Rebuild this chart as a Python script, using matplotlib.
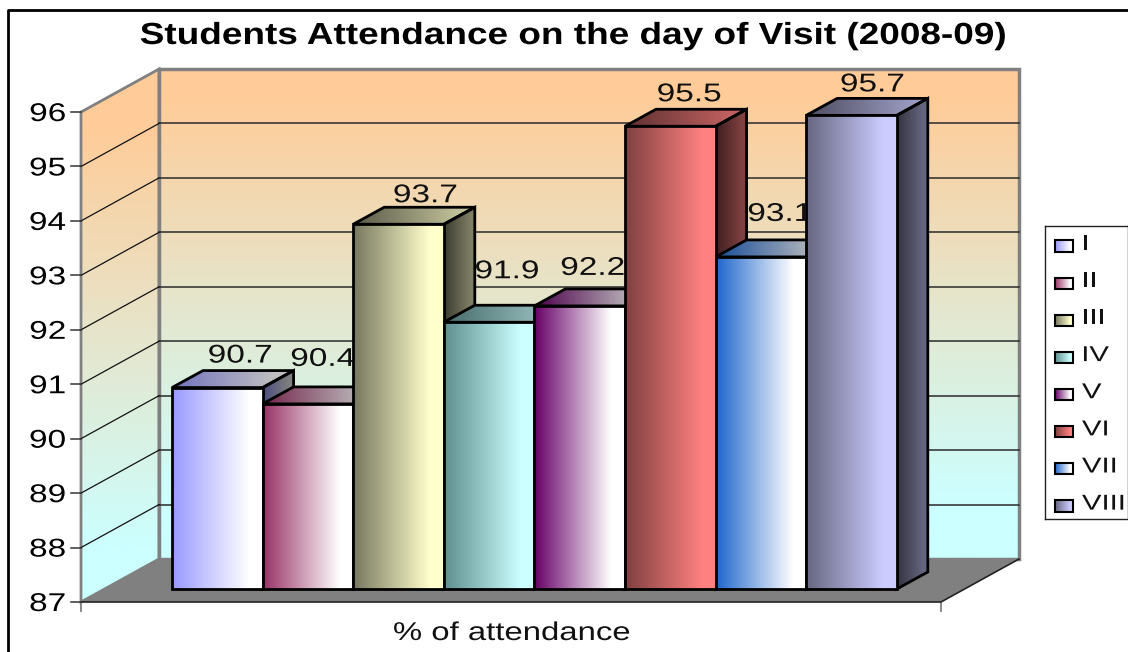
import numpy as np
import matplotlib
matplotlib.use('Agg')
import matplotlib.pyplot as plt
from matplotlib.colors import to_rgb
from matplotlib.lines import Line2D
from matplotlib.patches import Polygon
from matplotlib.patheffects import AbstractPathEffect
from matplotlib.transforms import Affine2D

plt.rcParams['font.family'] = ['Liberation Sans', 'DejaVu Sans']

classes = ['I', 'II', 'III', 'IV', 'V', 'VI', 'VII', 'VIII']
attendance = [90.7, 90.4, 93.7, 91.9, 92.2, 95.5, 93.1, 95.7]
y_ticks = [87, 88, 89, 90, 91, 92, 93, 94, 95, 96]

dark_colors = ['#9999FF', '#993366', '#777760', '#5F8F8F', '#660066', '#7F4040', '#1F66CC', '#666680']
light_colors = ['#FFFFFF', '#FFFFFF', '#FFFFCC', '#CCFFFF', '#FFFFFF', '#FF8080', '#FFFFFF', '#CCCCFF']

# pixels per bar width and per percent on the bar plane
PX_X = 90.6
PX_Y = 54.44
LEFT_PX = 172
BASE_PX = 589
W, H = 1128, 652

# 3d offsets in data units
BAR_DX, BAR_DY = 31 / PX_X, 17 / PX_Y
FRONT_X, FRONT_DY = (81 - LEFT_PX) / PX_X, -13 / PX_Y
BACK_X, BACK_DY = (159 - LEFT_PX) / PX_X, 30 / PX_Y
FLOOR_LEN = 860 / PX_X


class Stretch(AbstractPathEffect):
    # the source image is stretched sideways, so the glyphs are too
    def __init__(self, sx, anchor='center'):
        super().__init__()
        self.sx = sx
        self.anchor = anchor

    def draw_path(self, renderer, gc, tpath, affine, rgbFace=None):
        ext = tpath.get_extents()
        pivot = {'center': (ext.x0 + ext.x1) / 2, 'right': ext.x1, 'left': ext.x0}[self.anchor]
        stretch = Affine2D().translate(-pivot, 0).scale(self.sx, 1).translate(pivot, 0)
        renderer.draw_path(gc, tpath, stretch + affine, rgbFace)


def h_gradient(c0, c1, factor=1.0):
    t = np.clip(np.linspace(0, 1, 128) / 0.85, 0, 1)[:, None]
    rgb = np.array(to_rgb(c0)) * (1 - t) + np.array(to_rgb(c1)) * t
    return (rgb * factor)[None, :, :]


def v_gradient(y0, y1, ytop, ybottom):
    # y0 is the lower edge of the image, first row is the top
    ys = np.linspace(y1, y0, 256)
    t = np.clip((ys - ybottom) / (ytop - ybottom), 0, 1)[:, None]
    rgb = np.array(to_rgb('#CCFFFF')) * (1 - t) + np.array(to_rgb('#FFCC99')) * t
    return rgb[:, None, :]


def shade(axis, pts, img, z, edge='black', lw=2.0):
    pts = np.array(pts)
    poly = Polygon(pts, closed=True, fc='none', ec=edge, lw=lw, zorder=z + 0.1, joinstyle='miter')
    axis.add_patch(poly)
    im = axis.imshow(img, extent=(pts[:, 0].min(), pts[:, 0].max(), pts[:, 1].min(), pts[:, 1].max()),
                     aspect='auto', origin='upper', interpolation='bilinear', zorder=z)
    im.set_clip_path(Polygon(pts, closed=True, transform=axis.transData))


fig = plt.figure(figsize=(W / 100, H / 100), dpi=100, facecolor='white')
ax = fig.add_axes([0, 0, 1, 1])
ax.axis('off')

# walls
wall_x0, wall_x1 = BACK_X, BACK_X + FLOOR_LEN
back_low, back_high = y_ticks[0] + BACK_DY, y_ticks[-1] + BACK_DY
front_low, front_high = y_ticks[0] + FRONT_DY, y_ticks[-1] + FRONT_DY

shade(ax, [(wall_x0, back_low), (wall_x1, back_low), (wall_x1, back_high), (wall_x0, back_high)],
      v_gradient(back_low, back_high, back_high - 0.5, back_low + 1.0), 1, edge='#808080', lw=2.5)
shade(ax, [(FRONT_X, front_low), (wall_x0, back_low), (wall_x0, back_high), (FRONT_X, front_high)],
      v_gradient(front_low, back_high, front_high - 0.3, front_low + 1.0), 1, edge='#808080', lw=2.0)

# grid on both walls
for v in y_ticks[1:-1]:
    ax.plot([wall_x0, wall_x1], [v + BACK_DY] * 2, color='#2A2A2A', lw=1.1, zorder=2)
    ax.plot([FRONT_X, wall_x0], [v + FRONT_DY, v + BACK_DY], color='#111111', lw=0.9, zorder=2)

# floor
ax.add_patch(Polygon([(FRONT_X, front_low), (FRONT_X + FLOOR_LEN, front_low),
                      (wall_x1, back_low), (wall_x0, back_low)],
                     closed=True, fc='#808080', ec='none', zorder=3))
ax.plot([FRONT_X, FRONT_X + FLOOR_LEN, wall_x1], [front_low, front_low, back_low],
        color='#222222', lw=1.2, zorder=3.1)

# axis ticks and their labels
tick_len_x = 10 / PX_X
for v in y_ticks:
    y = v + FRONT_DY
    ax.plot([FRONT_X - tick_len_x, FRONT_X], [y, y], color='#333333', lw=1.1, zorder=3)
    ax.text(FRONT_X - 15 / PX_X, y - 2 / PX_Y, str(v), ha='right', va='center', fontsize=18.5, color='black',
            path_effects=[Stretch(1.3, 'right')], zorder=4)
tick_down = 9 / PX_Y
for x in (FRONT_X, FRONT_X + FLOOR_LEN):
    ax.plot([x, x], [front_low, front_low - tick_down], color='#808080', lw=1.3, zorder=3)

# bars, left to right so each one covers the side and label of the previous
label_dx = [23, 15, 27, 18, 13, 19, 19, 21]
label_dy = [32, 45, 29, 51, 38, 32, 43, 31]
for i, (v, c0, c1) in enumerate(zip(attendance, dark_colors, light_colors)):
    z = 10 + i
    x0, x1 = i, i + 1
    base = y_ticks[0]
    shade(ax, [(x1, base), (x1 + BAR_DX, base + BAR_DY), (x1 + BAR_DX, v + BAR_DY), (x1, v)],
          h_gradient(c0, c1, 0.5), z)
    shade(ax, [(x0, v), (x1, v), (x1 + BAR_DX, v + BAR_DY), (x0 + BAR_DX, v + BAR_DY)],
          h_gradient(c0, c1, 0.75), z)
    shade(ax, [(x0, base), (x1, base), (x1, v), (x0, v)], h_gradient(c0, c1), z + 0.2)
    ax.text(i + 0.5 + label_dx[i] / PX_X, v + label_dy[i] / PX_Y, f'{v:.1f}', ha='center', va='center',
            fontsize=18.5, color='#111111', path_effects=[Stretch(1.3)], zorder=z + 0.5)

ax.set_xlim(-LEFT_PX / PX_X, (W - LEFT_PX) / PX_X)
ax.set_ylim(y_ticks[0] - (H - BASE_PX) / PX_Y, y_ticks[0] + BASE_PX / PX_Y)

fig.text(573 / W, 1 - 36 / H, 'Students Attendance on the day of Visit (2008-09)', ha='center', va='center',
         fontsize=22, fontweight='bold', color='black', path_effects=[Stretch(1.21)])
fig.text(512 / W, 1 - 633 / H, '% of attendance', ha='center', va='center', fontsize=18.5, color='#111111',
         path_effects=[Stretch(1.28)])

# outer frame, only left and top are inside the picture
fig.add_artist(Line2D([8 / W, 8 / W, 1], [0, 1 - 10 / H, 1 - 10 / H], color='black', lw=2.0))

# legend box, one row per class
lax = fig.add_axes([1045 / W, 1 - 519 / H, 83 / W, 293 / H])
lax.set_xticks([])
lax.set_yticks([])
for side in ('top', 'bottom', 'left', 'right'):
    lax.spines[side].set_linewidth(1.0)
    lax.spines[side].set_color('#222222')
row_step = 37.1
for i, name in enumerate(classes):
    shade(lax, [(10, i - 0.15), (28, i - 0.15), (28, i + 0.15), (10, i + 0.15)],
          h_gradient(dark_colors[i], light_colors[i]), 2, lw=1.5)
    lax.text(37, i - 0.05, name, ha='left', va='center', fontsize=15.5, color='#111111',
             path_effects=[Stretch(1.36, 'left')])
lax.set_xlim(0, 83)
lax.set_ylim(7 + 13 / row_step, -20 / row_step)

fig.savefig('out.png', dpi=100)
